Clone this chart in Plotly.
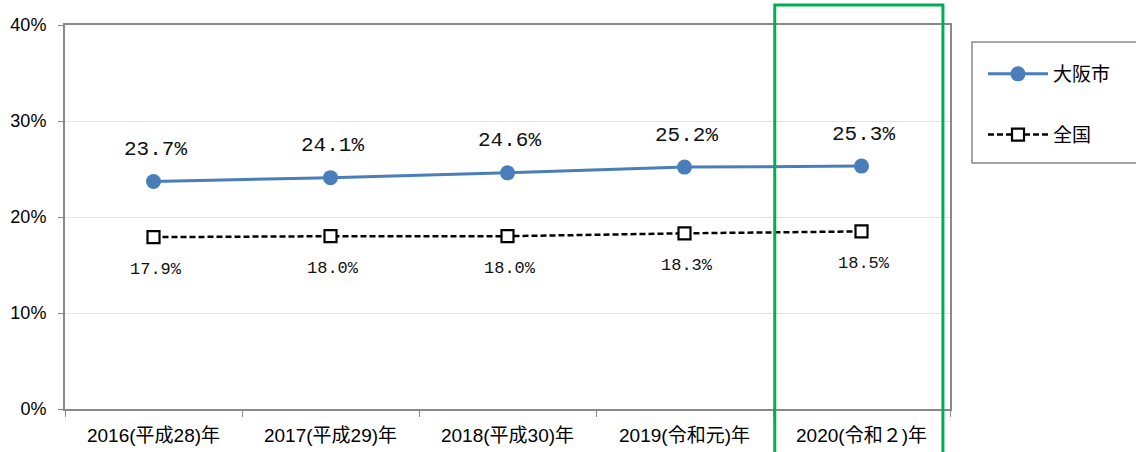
import plotly.graph_objects as go

categories = ["2016(平成28)年", "2017(平成29)年", "2018(平成30)年", "2019(令和元)年", "2020(令和２)年"]
osaka = [23.7, 24.1, 24.6, 25.2, 25.3]
zenkoku = [17.9, 18.0, 18.0, 18.3, 18.5]
series_names = ["大阪市", "全国"]
y_ticks = [0, 10, 20, 30, 40]
y_tick_text = [f"{v}%" for v in y_ticks]

W, H = 1136, 452
ML, MR, MT, MB = 65, 186, 25, 43
pw = W - ML - MR
ph = H - MT - MB

fig = go.Figure()
fig.add_trace(go.Scatter(
    x=categories, y=osaka, name=series_names[0], mode="lines+markers",
    line=dict(color="#4A7EBB", width=3),
    marker=dict(symbol="circle", size=15, color="#4A7EBB"),
    legendgroup="a",
))
fig.add_trace(go.Scatter(
    x=categories, y=zenkoku, name=series_names[1], mode="lines+markers",
    line=dict(color="#000000", width=2.5, dash="6px,3px"),
    marker=dict(symbol="square", size=12, color="#FFFFFF", line=dict(color="#000000", width=2.2)),
    legendgroup="b",
))

for c, v in zip(categories, osaka):
    fig.add_annotation(x=c, y=v, text=f"{v:.1f}%", showarrow=False, yshift=32, xshift=2,
                       font=dict(family="Liberation Mono", size=21, color="#111111"))
for c, v in zip(categories, zenkoku):
    fig.add_annotation(x=c, y=v, text=f"{v:.1f}%", showarrow=False, yshift=-32, xshift=2,
                       font=dict(family="Liberation Mono", size=17, color="#111111"))

# highlight box for the latest year
n = len(categories)
x0 = (3.5 + 0.01 + 0.5) / n
x1 = (4.5 - 0.04 + 0.5) / n
fig.add_shape(type="rect", xref="paper", yref="paper",
              x0=x0, x1=x1, y0=-0.2, y1=(H - MB - 5) / ph,
              line=dict(color="#00B050", width=3), fillcolor="rgba(0,0,0,0)")

# legend frame
fig.add_shape(type="rect", xref="paper", yref="paper",
              x0=(972 - ML) / pw, x1=(1145 - ML) / pw,
              y0=(H - MB - 163) / ph, y1=(H - MB - 42) / ph,
              line=dict(color="#898989", width=1.5), fillcolor="rgba(0,0,0,0)")

fig.update_layout(
    width=W, height=H,
    margin=dict(l=ML, r=MR, t=MT, b=MB),
    paper_bgcolor="white", plot_bgcolor="white",
    font=dict(family="Liberation Sans, Noto Sans CJK JP", color="#000000"),
    showlegend=True,
    legend=dict(x=(983 - ML) / pw, y=(H - MB - 55) / ph, xanchor="left", yanchor="top",
                font=dict(size=19, family="Noto Sans CJK JP"),
                bgcolor="rgba(0,0,0,0)", borderwidth=0,
                traceorder="grouped", tracegroupgap=33, itemwidth=60),
)
fig.update_xaxes(
    type="category", range=[-0.5, n - 0.5], tickson="boundaries",
    ticks="outside", ticklen=6, tickcolor="#898989",
    showline=True, linecolor="#898989", linewidth=2, mirror=True,
    showgrid=False, ticklabelstandoff=8, automargin=False,
    tickfont=dict(size=19, family="Liberation Sans, Noto Sans CJK JP"),
)
fig.update_yaxes(
    range=[0, 40], tickvals=y_ticks, ticktext=y_tick_text,
    ticks="outside", ticklen=5, tickcolor="#898989",
    showline=True, linecolor="#898989", linewidth=2, mirror=True,
    showgrid=True, gridcolor="#E3E3E3", gridwidth=1, ticklabelstandoff=8,
    automargin=False,
    tickfont=dict(size=18, family="Liberation Sans"), zeroline=False,
)

fig.write_html("out.html", config={"displayModeBar": False},
               post_script="document.body.style.margin='0';")
